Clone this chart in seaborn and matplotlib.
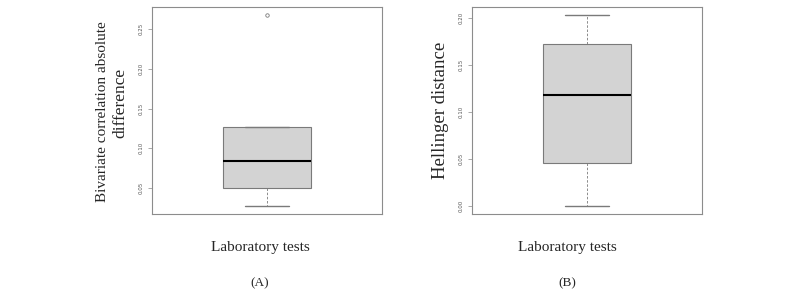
import numpy as np
import matplotlib
matplotlib.use("Agg")
import matplotlib.pyplot as plt
import seaborn as sns

# values
corr_diff = [0.027, 0.050, 0.050, 0.0843, 0.1271, 0.1271, 0.2676]
hellinger = [0.0, 0.0461, 0.1175, 0.1725, 0.2028]
ticks_a = [0.05, 0.10, 0.15, 0.20, 0.25]
ticks_b = [0.00, 0.05, 0.10, 0.15, 0.20]
ylab_a = ["Bivariate correlation absolute", "difference"]
ylab_b = "Hellinger distance"
xlab = "Laboratory tests"

sns.set_style("white")
serif = ["Liberation Serif", "DejaVu Serif"]

fig = plt.figure(figsize=(8, 2.95), dpi=100)
ax_a = fig.add_axes([152/800, 1-214/295, 230/800, 206.7/295])
ax_b = fig.add_axes([472/800, 1-214/295, 230/800, 206.7/295])

edge = "#7a7a7a"

def draw(ax, vals, ticks):
    sns.boxplot(y=vals, ax=ax, width=0.41, color="#d3d3d3", saturation=1,
                linecolor=edge, linewidth=0.8,
                medianprops=dict(color="black", linewidth=1.5),
                whiskerprops=dict(color=edge, linewidth=0.6, linestyle=(0, (3, 2))),
                capprops=dict(color=edge, linewidth=1.0),
                flierprops=dict(marker="o", markersize=2.5, markerfacecolor="none",
                                markeredgecolor=edge, markeredgewidth=0.6))
    lo, hi = min(vals), max(vals)
    pad = 0.04 * (hi - lo)
    ax.set_ylim(lo - pad, hi + pad)
    ax.set_xlim(-0.54, 0.54)
    ax.set_yticks(ticks)
    ax.set_yticklabels([f"{t:.2f}" for t in ticks], rotation=90, va="center",
                       fontsize=4, color="#555555")
    ax.tick_params(axis="y", left=True, length=3, width=0.5, color="#888888", pad=3)
    ax.set_xticks([])
    ax.set_xlabel("")
    ax.set_ylabel("")
    for s in ax.spines.values():
        s.set_color("#8c8c8c")
        s.set_linewidth(0.8)

draw(ax_a, corr_diff, ticks_a)
draw(ax_b, hellinger, ticks_b)

# y labels placed in figure space, like the R panels
ymid = 1 - 110.6/295
fig.text(103/800, 1 - 111.7/295, ylab_a[0], family=serif, fontsize=11,
         rotation=90, ha="center", va="center")
fig.text(120/800, 1 - 103/295, ylab_a[1], family=serif, fontsize=12.5,
         rotation=90, ha="center", va="center")
fig.text(440/800, ymid, ylab_b, family=serif, fontsize=13.5, rotation=90,
         ha="center", va="center")

for xc, tag in [(260, "(A)"), (567, "(B)")]:
    fig.text(xc/800, 1-248/295, xlab, family=serif, fontsize=11,
             ha="center", va="center")
    fig.text(xc/800, 1-283/295, tag, family=serif, fontsize=9.5,
             ha="center", va="center")

fig.savefig("out.png", dpi=100)
